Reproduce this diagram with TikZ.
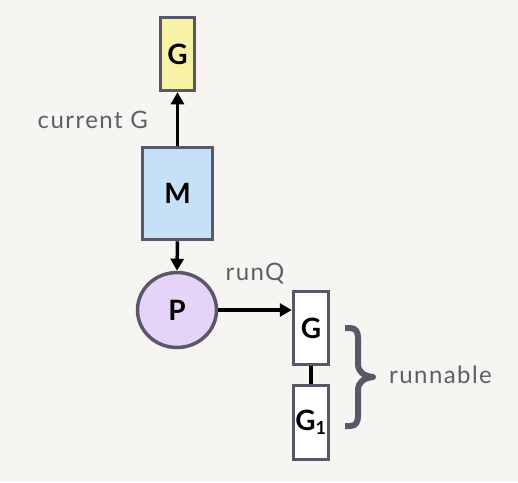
\documentclass[tikz,border=0pt]{standalone}
\usepackage{fontspec}
\setmainfont{Lato}
\usetikzlibrary{arrows.meta,shapes.geometric}
\definecolor{bg}{HTML}{F7F5F2}
\definecolor{edge}{HTML}{5A5868}
\definecolor{gyel}{HTML}{F8F2A6}
\definecolor{mblue}{HTML}{C6E0F8}
\definecolor{plav}{HTML}{E6D4F8}
\definecolor{txtgray}{HTML}{5E5E66}
\begin{document}
\begin{tikzpicture}[x=1pt,y=-1pt,
  box/.style={draw=edge,line width=3.5pt,inner sep=0pt,font=\fontsize{28}{32}\selectfont\bfseries},
  conn/.style={line width=3.5pt,-{Triangle[length=12pt,width=13pt]}},
  lbl/.style={text=txtgray,font=\fontsize{24}{28}\selectfont\addfontfeatures{LetterSpace=6},inner sep=0pt}]
\fill[bg] (0,0) rectangle (518,482);
\useasboundingbox (0,0) rectangle (518,482);
\node[box,fill=gyel,minimum width=34pt,minimum height=73pt] (g0) at (177.5,54) {G};
\node[box,fill=mblue,minimum width=70pt,minimum height=92pt] (m) at (177.5,193.5) {M};
\node[box,fill=plav,ellipse,minimum width=79pt,minimum height=75pt] (p) at (177,310) {P};
\node[box,fill=white,minimum width=35pt,minimum height=73pt] (g2) at (311,328) {G};
\node[box,fill=white,minimum width=35pt,minimum height=74pt] (g1) at (311,422.5) {G\textsubscript{\fontsize{18}{20}\selectfont 1}};
\draw[conn] (m.north) -- (g0.south);
\draw[conn] (m.south) -- (p.north);
\draw[conn] (p.east) -- (g2.west |- p.east);
\draw[line width=3.5pt] (g2.south) -- (g1.north);
\draw[edge,line width=6pt,line join=round]
  (345,328) -- (350,328) .. controls (356,328) and (358,332) .. (358,338)
  -- (358,364) .. controls (358,372) and (364,376) .. (373,377)
  .. controls (364,378) and (358,382) .. (358,390)
  -- (358,416) .. controls (358,422) and (356,426) .. (350,426) -- (345,426);
\node[lbl,anchor=west] (run) at (389,375) {runnable};
\node[lbl,anchor=east] (cur) at (148,120) {current G};
\node[lbl] (rq) at (255,274) {runQ};
\end{tikzpicture}
\end{document}
